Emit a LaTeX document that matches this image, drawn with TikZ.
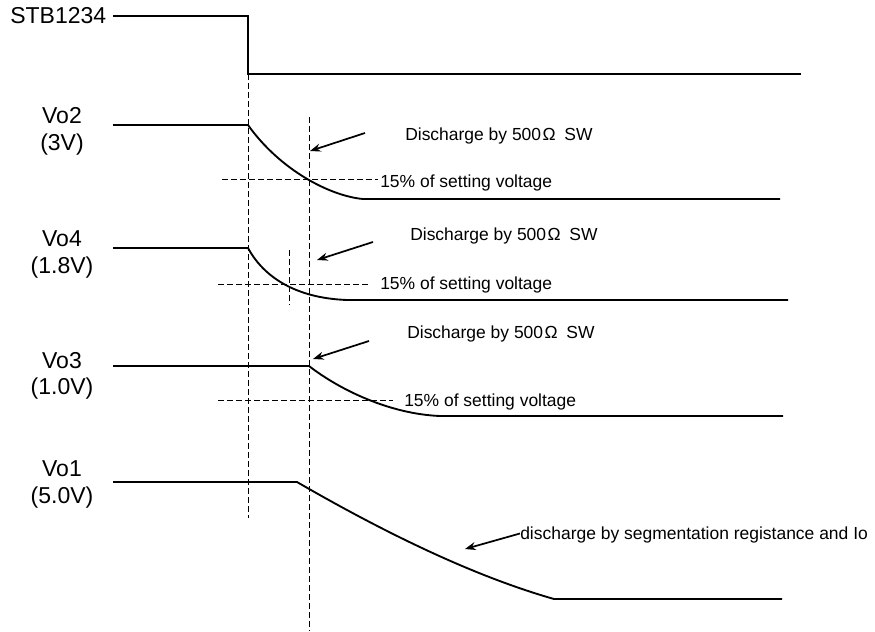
\documentclass[tikz,border=0pt]{standalone}
\usepackage{fontspec}
\setmainfont{Liberation Sans}
\usetikzlibrary{arrows.meta}
\begin{document}
\begin{tikzpicture}[x=0.75pt,y=-0.75pt,
  sig/.style={line width=1.4pt, line join=miter},
  guide/.style={line width=0.75pt, dash pattern=on 4.5pt off 2.25pt},
  note/.style={-{Stealth[length=8pt,width=6pt]}, line width=1.3pt},
  big/.style={inner sep=0pt, anchor=base, font=\fontsize{17.25}{20}\selectfont},
  small/.style={inner sep=0pt, anchor=base west, font=\fontsize{13.1}{16}\selectfont}]
\useasboundingbox (0,0) rectangle (875,632);

% labels
\node[big, anchor=base west] (stb) at (10,23) {STB1234};
\node[big] (vo2a) at (62,123) {Vo2};
\node[big] (vo2b) at (62,150) {(3V)};
\node[big] (vo4a) at (62,246) {Vo4};
\node[big] (vo4b) at (62,273) {(1.8V)};
\node[big] (vo3a) at (62,368) {Vo3};
\node[big] (vo3b) at (62,394) {(1.0V)};
\node[big] (vo1a) at (62,476) {Vo1};
\node[big] (vo1b) at (62,503) {(5.0V)};

% STB signal
\coordinate (s0) at (113,16);
\coordinate (s1) at (248,16);
\coordinate (s2) at (248,74);
\coordinate (s3) at (801,74);
\draw[sig] (s0) -- (s1) -- (s2) -- (s3);

% guide lines
\coordinate (g1t) at (248,74);  \coordinate (g1b) at (248,518);
\coordinate (g2t) at (309,117); \coordinate (g2b) at (309,631);
\draw[guide] (g1t) -- (g1b);
\draw[guide] (g2t) -- (g2b);

% Vo2
\coordinate (a0) at (113,125);
\coordinate (a1) at (248,125);
\coordinate (a2) at (363,199);
\coordinate (a3) at (780,199);
\draw[sig] (a0) -- (a1) .. controls (280,170) and (330,196) .. (a2) -- (a3);
\coordinate (ah1) at (222,179); \coordinate (ah2) at (378,179);
\draw[guide] (ah1) -- (ah2);
\node[small] (t2a) at (405,140) {Discharge by 500\kern1pt Ω\kern3pt\ SW};
\node[small] (t2b) at (380,187) {15\% of setting voltage};
\coordinate (ar2t) at (365,133); \coordinate (ar2h) at (310,151);
\draw[note] (ar2t) -- (ar2h);

% Vo4
\coordinate (b0) at (113,248);
\coordinate (b1) at (248,248);
\coordinate (b2) at (347,300);
\coordinate (b3) at (788,300);
\draw[sig] (b0) -- (b1) .. controls (262,274) and (292,298) .. (b2) -- (b3);
\coordinate (bh1) at (218,284); \coordinate (bh2) at (368,284);
\draw[guide] (bh1) -- (bh2);
\coordinate (bv1) at (289,250); \coordinate (bv2) at (289,305);
\draw[guide] (bv1) -- (bv2);
\node[small] (t4a) at (410,240) {Discharge by 500\kern1pt Ω\kern3pt\ SW};
\node[small] (t4b) at (380,289) {15\% of setting voltage};
\coordinate (ar4t) at (373,242); \coordinate (ar4h) at (317,260);
\draw[note] (ar4t) -- (ar4h);

% Vo3
\coordinate (c0) at (113,366);
\coordinate (c1) at (309,366);
\coordinate (c2) at (440,416);
\coordinate (c3) at (783,416);
\draw[sig] (c0) -- (c1) .. controls (340,390) and (390,414) .. (c2) -- (c3);
\coordinate (ch1) at (218,400); \coordinate (ch2) at (393,400);
\draw[guide] (ch1) -- (ch2);
\node[small] (t3a) at (407,338) {Discharge by 500\kern1pt Ω\kern3pt\ SW};
\node[small] (t3b) at (404,406) {15\% of setting voltage};
\coordinate (ar3t) at (369,341); \coordinate (ar3h) at (313,359);
\draw[note] (ar3t) -- (ar3h);

% Vo1
\coordinate (d0) at (113,482);
\coordinate (d1) at (297,482);
\coordinate (d2) at (554,599);
\coordinate (d3) at (782,599);
\draw[sig] (d0) -- (d1) .. controls (380,530) and (470,575) .. (d2) -- (d3);
\node[small] (t1) at (520,539) {discharge by segmentation registance and Io};
\coordinate (ar1h) at (465,549);
\draw[note] (t1.west) ++(0,-1) coordinate (ar1t) (ar1t) -- (ar1h);
\end{tikzpicture}
\end{document}
